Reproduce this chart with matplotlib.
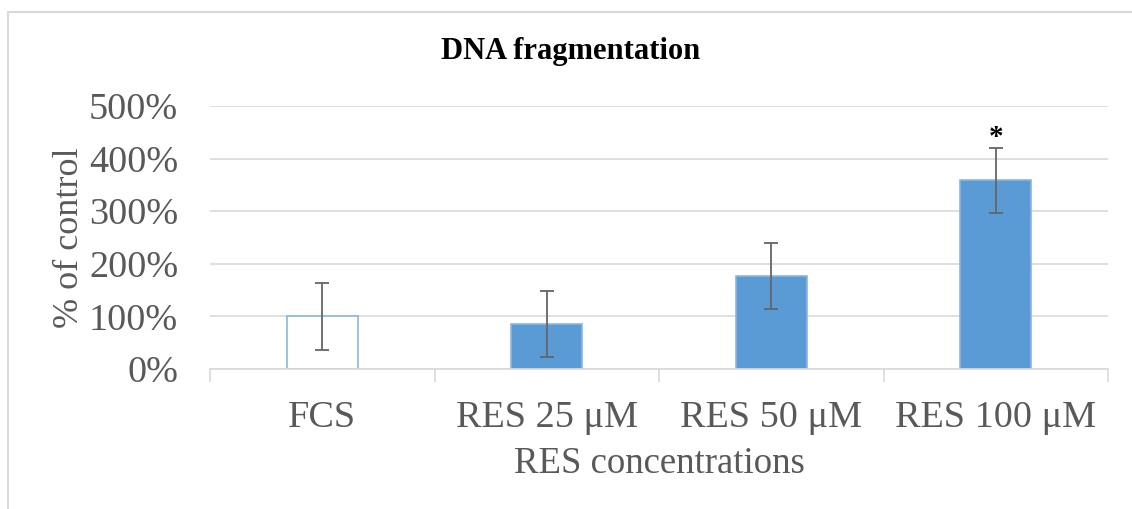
import numpy as np
import matplotlib.pyplot as plt
from matplotlib.lines import Line2D
from matplotlib.ticker import FixedLocator, NullFormatter

categories = ['FCS', 'RES 25 μM', 'RES 50 μM', 'RES 100 μM']
values = [1.00, 0.85, 1.77, 3.59]
errors = [0.63, 0.63, 0.63, 0.62]
marks = ['', '', '', '*']

plt.rcParams['font.family'] = ['Liberation Serif', 'DejaVu Serif']

fig = plt.figure(figsize=(11.32, 5.09), dpi=100)
ax = fig.add_axes([210 / 1132, 1 - 369 / 509, 898 / 1132, 263 / 509])

# outer chart frame: only left and top edges fall inside the picture
fx, fy = 7.5 / 1132, 1 - 11.5 / 509
for xs, ys in [([fx, fx], [0, fy]), ([fx, 1], [fy, fy])]:
    fig.lines.append(Line2D(xs, ys, transform=fig.transFigure,
                            color='#d9d9d9', linewidth=1.5))

x = np.arange(len(categories))
faces = ['white', '#5b9bd5', '#5b9bd5', '#5b9bd5']
ax.bar(x, values, width=0.316, color=faces, edgecolor='#8db5e0',
       linewidth=1.2, zorder=2)
ax.errorbar(x, values, yerr=errors, fmt='none', ecolor='#666666',
            elinewidth=1.3, capsize=4.7, capthick=1.3, zorder=3)
for xi, v, e, m in zip(x, values, errors, marks):
    if m:
        ax.text(xi, v + e + 0.2, m, ha='center', va='center', fontsize=21,
                fontweight='bold', color='black')

ax.set_xlim(-0.5, len(categories) - 0.5)
ax.set_ylim(0, 5)
ax.set_yticks(np.arange(0, 6, 1))
ax.set_yticklabels([f'{int(v * 100)}%' for v in np.arange(0, 6, 1)])
ax.grid(axis='y', color='#d9d9d9', linewidth=1.2, zorder=0)
ax.set_axisbelow(True)

# category separators as major ticks, labels on minor ticks
ax.xaxis.set_major_locator(FixedLocator(np.arange(-0.5, len(categories), 1)))
ax.xaxis.set_major_formatter(NullFormatter())
ax.xaxis.set_minor_locator(FixedLocator(x))
ax.set_xticklabels(categories, minor=True)
ax.tick_params(axis='x', which='major', length=9, width=1.2, color='#d9d9d9')
ax.tick_params(axis='x', which='minor', length=0, pad=23, labelsize=27.5,
               labelcolor='#595959')
ax.tick_params(axis='y', length=0, pad=23, labelsize=27.5, labelcolor='#595959')

for s in ['top', 'right', 'left']:
    ax.spines[s].set_visible(False)
ax.spines['bottom'].set_color('#d9d9d9')
ax.spines['bottom'].set_linewidth(1.2)

ax.set_xlabel('RES concentrations', fontsize=26.5, color='#595959', labelpad=8)
ax.set_ylabel('% of control', fontsize=26, color='#595959', labelpad=2)
fig.text(571 / 1132, 1 - 51 / 509, 'DNA fragmentation', ha='center', va='center',
         fontsize=22, fontweight='bold', color='black')

fig.savefig('out.png', dpi=100)
